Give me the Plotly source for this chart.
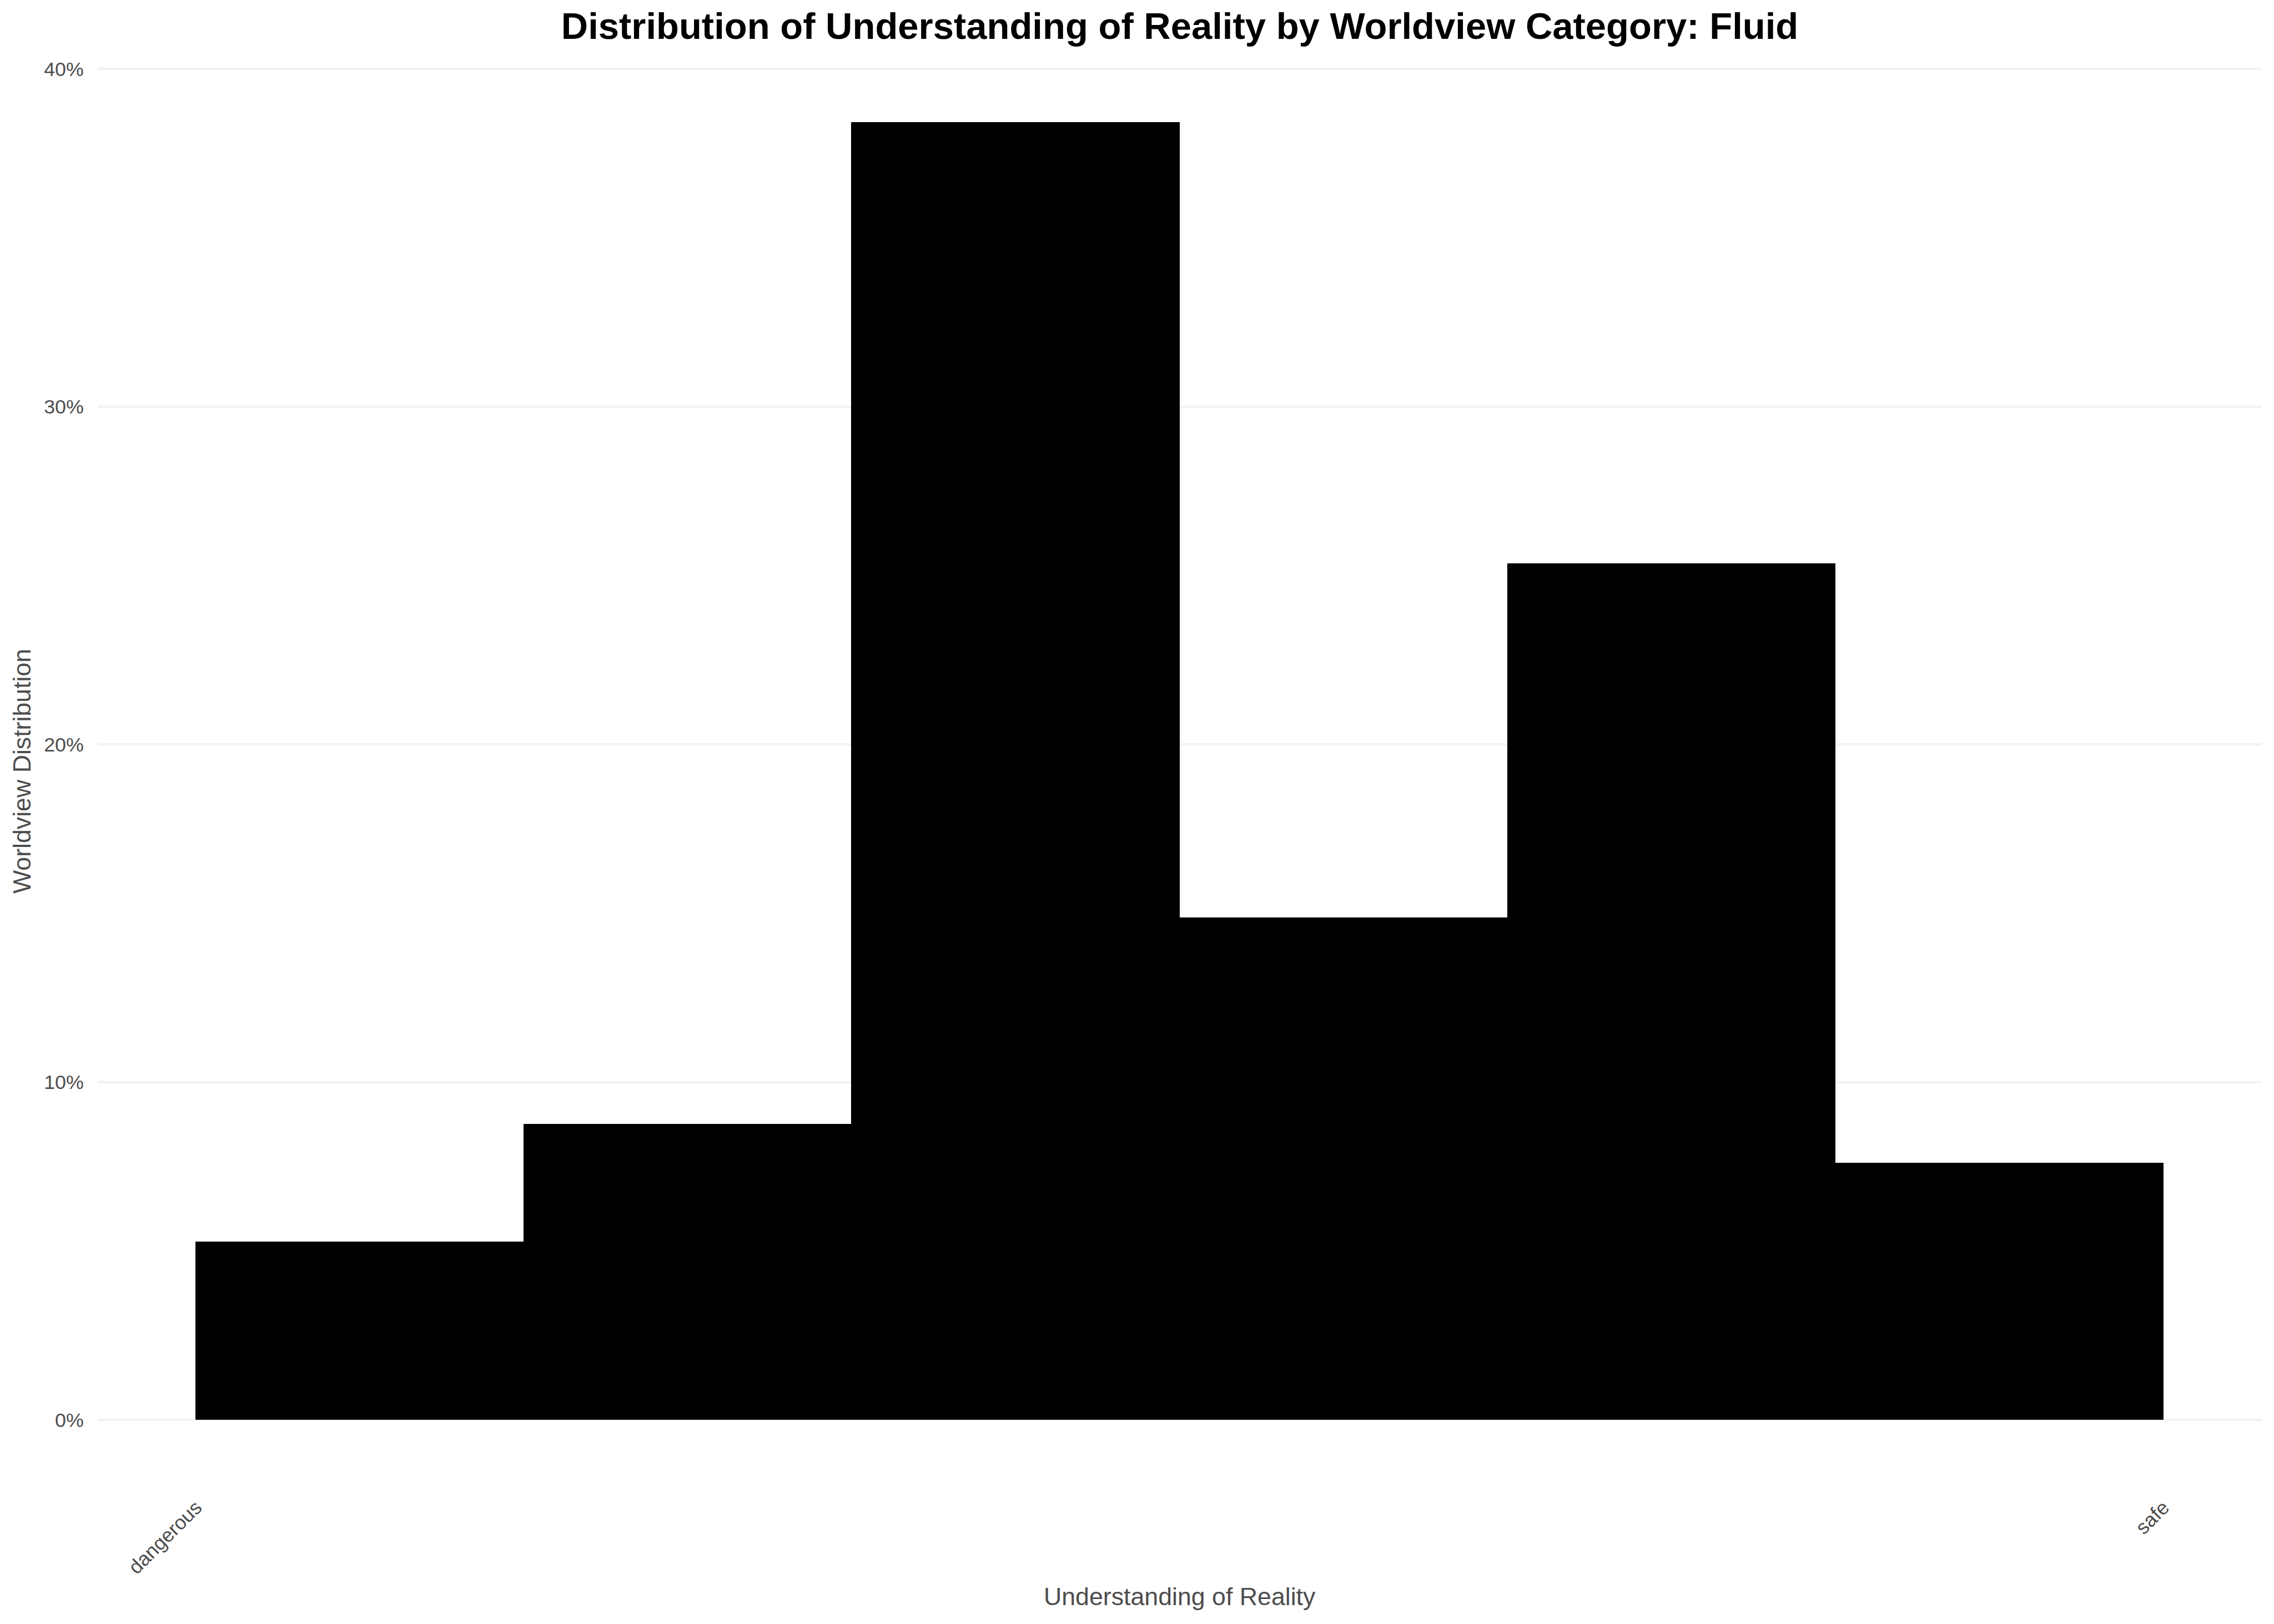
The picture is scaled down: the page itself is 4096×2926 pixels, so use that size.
import plotly.graph_objects as go

# ---- data ----
bin_centers = [0.5, 1.5, 2.5, 3.5, 4.5, 5.5]
bin_width = [1, 1, 1, 1, 1, 1]
share_pct = [5.26, 8.75, 38.41, 14.86, 25.34, 7.60]
x_tick_vals = [0, 6]
x_tick_text = ["dangerous", "safe"]
y_tick_vals = [0, 10, 20, 30, 40]
y_tick_text = ["0%", "10%", "20%", "30%", "40%"]

W, H = 4096, 2926
L, R, T, B = 175.5, 21.5, 104.3, 250.6
pw = W - L - R
ph = H - T - B

GREY = "#4D4D4D"
FONT = "Liberation Sans, Arial, Helvetica, sans-serif"

fig = go.Figure()
fig.add_trace(go.Bar(
    x=bin_centers, y=share_pct, width=bin_width,
    marker=dict(color="black", line=dict(color="black", width=1)),
    showlegend=False,
))

fig.update_layout(
    width=W, height=H,
    margin=dict(l=L, r=R, t=T, b=B, pad=0),
    paper_bgcolor="white", plot_bgcolor="white",
    font=dict(family=FONT, color=GREY),
    bargap=0,
    title=dict(
        text="<b>Distribution of Understanding of Reality by Worldview Category: Fluid</b>",
        font=dict(family=FONT, size=67, color="black"),
        x=0.5, xref="paper", xanchor="center",
        y=1 - 46.3 / H, yref="container", yanchor="middle",
    ),
    xaxis=dict(
        range=[-0.3, 6.3], tickmode="array", tickvals=x_tick_vals, ticktext=x_tick_text,
        tickangle=-45, showgrid=False, zeroline=False, showline=False,
        ticks="outside", ticklen=5, tickcolor="rgba(0,0,0,0)",
        tickfont=dict(family=FONT, size=35.8, color=GREY),
        automargin=False,
    ),
    yaxis=dict(
        range=[-1.92, 40.33], tickmode="array", tickvals=y_tick_vals, ticktext=y_tick_text,
        showgrid=True, gridcolor="#F2F2F2", gridwidth=4.3, zeroline=False, showline=False,
        ticks="outside", ticklen=17, tickcolor="rgba(0,0,0,0)",
        tickfont=dict(family=FONT, size=35.8, color=GREY),
        automargin=False,
    ),
    annotations=[
        dict(text="Understanding of Reality", xref="paper", yref="paper",
             x=0.5, y=(H - B - 2877) / ph,
             xanchor="center", yanchor="middle", showarrow=False,
             font=dict(family=FONT, size=44.7, color=GREY)),
        dict(text="Worldview Distribution", xref="paper", yref="paper",
             x=(39 - L) / pw, y=0.5, textangle=-90,
             xanchor="center", yanchor="middle", showarrow=False,
             font=dict(family=FONT, size=44.7, color=GREY)),
    ],
)

fig.write_html("out.html")
